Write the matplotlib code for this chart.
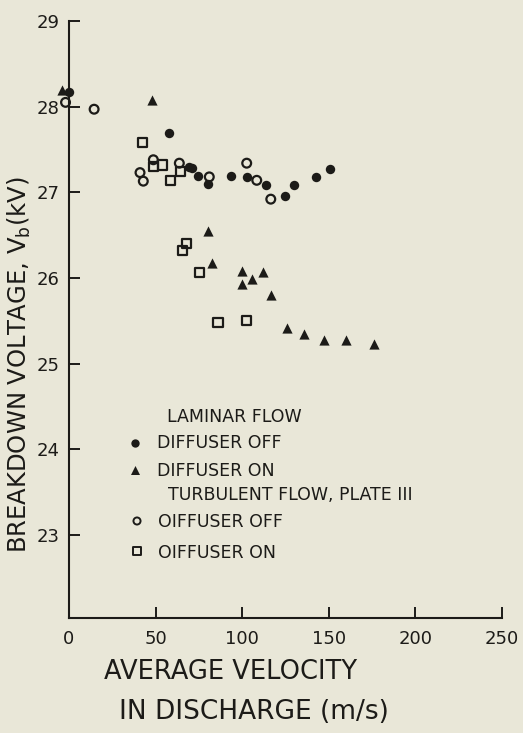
#!/usr/bin/env python3
import matplotlib

matplotlib.use("Agg")
import matplotlib.pyplot as plt

# laminar flow, diffuser off (filled circles)
lam_off_v = [0, 58, 69, 71, 74.3, 80.2, 93.5, 103, 114, 124.5, 130, 142.5, 150.5]
lam_off_kv = [28.17, 27.69, 27.30, 27.28, 27.19, 27.10, 27.19, 27.18, 27.08, 26.96, 27.08, 27.18, 27.27]

# laminar flow, diffuser on (filled triangles)
lam_on_v = [-4, 48, 80, 82.4, 100, 100, 105.5, 112, 116.6, 125.7, 135.5, 147.4, 160, 176]
lam_on_kv = [28.20, 28.08, 26.55, 26.17, 26.08, 25.93, 25.99, 26.07, 25.80, 25.42, 25.34, 25.27, 25.28, 25.23]

# turbulent flow plate III, diffuser off (open circles)
turb_off_v = [-2, 14.5, 41, 42.9, 48.7, 63.7, 81, 102.6, 108.4, 116.5]
turb_off_kv = [28.05, 27.97, 27.23, 27.13, 27.38, 27.34, 27.18, 27.34, 27.14, 26.92]

# turbulent flow plate III, diffuser on (open squares)
turb_on_v = [42.3, 48.7, 53.9, 58.7, 64.5, 65.4, 68, 75.3, 86, 102.6]
turb_on_kv = [27.58, 27.30, 27.32, 27.14, 27.24, 26.32, 26.40, 26.06, 25.48, 25.50]

x_ticks = [0, 50, 100, 150, 200, 250]
y_ticks = [23, 24, 25, 26, 27, 28, 29]

INK = "#1c1b18"
PAPER = "#e9e7d8"


def px(x, y):
    # figure pixel (from top-left) to figure fraction
    return x / 523.0, 1.0 - y / 733.0


def main():
    fig = plt.figure(figsize=(5.23, 7.33), dpi=100, facecolor=PAPER)
    ax = fig.add_axes([69 / 523, 1 - 618 / 733, (502 - 69) / 523, (618 - 21) / 733])
    ax.set_facecolor(PAPER)

    ax.scatter(lam_off_v, lam_off_kv, s=46, marker="o", c=INK, linewidths=0, zorder=3, clip_on=False)
    ax.scatter(lam_on_v, lam_on_kv, s=54, marker="^", c=INK, linewidths=0, zorder=3, clip_on=False)
    ax.scatter(turb_off_v, turb_off_kv, s=40, marker="o", facecolors="none", edgecolors=INK,
               linewidths=1.6, zorder=3, clip_on=False)
    ax.scatter(turb_on_v, turb_on_kv, s=44, marker="s", facecolors="none", edgecolors=INK,
               linewidths=1.6, zorder=3, clip_on=False)

    ax.set_xlim(0, 250)
    ax.set_ylim(22.03, 29)
    ax.set_xticks(x_ticks)
    ax.set_yticks(y_ticks)
    ax.set_xticklabels([str(t) for t in x_ticks])
    ax.set_yticklabels([str(t) for t in y_ticks])

    for side in ("top", "right"):
        ax.spines[side].set_visible(False)
    for side in ("left", "bottom"):
        ax.spines[side].set_color(INK)
        ax.spines[side].set_linewidth(1.5)
    ax.tick_params(axis="both", direction="in", length=8, width=1.4, color=INK,
                   labelcolor=INK, labelsize=13)
    ax.tick_params(axis="x", pad=9)
    ax.tick_params(axis="y", pad=7)

    # legend written as plain text rows like the original figure
    fs = 12.5
    fig.text(*px(167, 417), "LAMINAR FLOW", fontsize=fs, color=INK, va="center")
    fig.text(*px(157, 443), "DIFFUSER OFF", fontsize=fs, color=INK, va="center")
    fig.text(*px(157, 471), "DIFFUSER ON", fontsize=fs, color=INK, va="center")
    fig.text(*px(168, 495), "TURBULENT FLOW, PLATE III", fontsize=fs, color=INK, va="center")
    fig.text(*px(158, 522), "OIFFUSER OFF", fontsize=fs, color=INK, va="center")
    fig.text(*px(158, 553), "OIFFUSER ON", fontsize=fs, color=INK, va="center")

    key = fig.add_axes([0, 0, 1, 1], facecolor="none")
    key.set_xlim(0, 523)
    key.set_ylim(733, 0)
    key.axis("off")
    key.scatter([135], [443], s=36, marker="o", c=INK, linewidths=0)
    key.scatter([135], [470], s=42, marker="^", c=INK, linewidths=0)
    key.scatter([137], [521], s=26, marker="o", facecolors="none", edgecolors=INK, linewidths=1.4)
    key.scatter([137], [551], s=26, marker="s", facecolors="none", edgecolors=INK, linewidths=1.4)

    fig.text(*px(231, 672), "AVERAGE VELOCITY", fontsize=18.5, color=INK, ha="center", va="center")
    fig.text(*px(254, 712), "IN DISCHARGE (m/s)", fontsize=19, color=INK, ha="center", va="center")
    fig.text(*px(19, 365), r"BREAKDOWN VOLTAGE, V$_\mathregular{b}$(kV)", fontsize=17.5,
             color=INK, rotation=90, ha="center", va="center")

    fig.savefig("out.png", dpi=100, facecolor=PAPER)
    plt.close(fig)


if __name__ == "__main__":
    main()
